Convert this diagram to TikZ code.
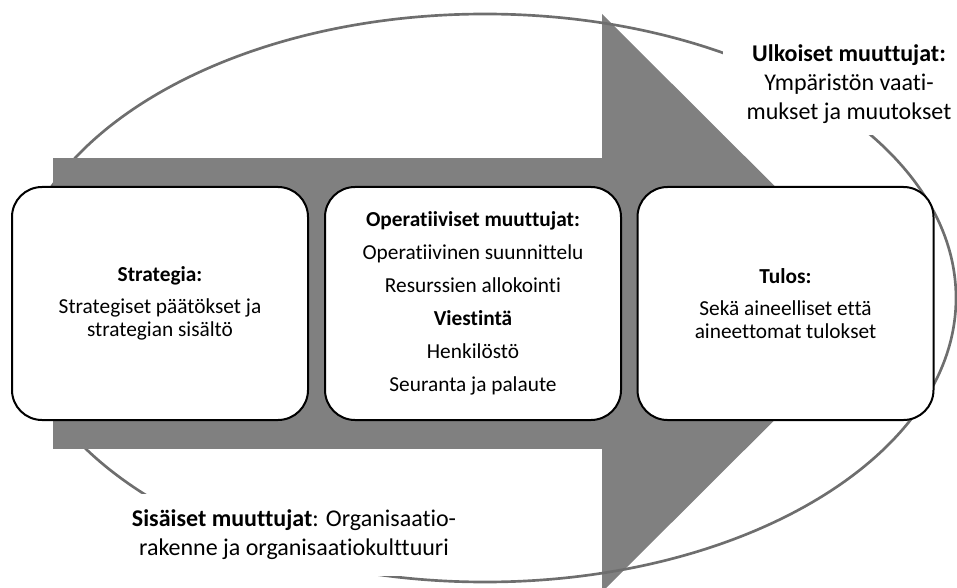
\documentclass[tikz,border=0pt]{standalone}
\usepackage{fontspec}
\setmainfont[Ligatures=NoCommon]{Carlito}
\definecolor{arrowgray}{HTML}{808080}
\definecolor{ringgray}{HTML}{6E6E6E}

\begin{document}
\begin{tikzpicture}[x=0.75pt, y=-0.75pt, line join=round,
  stage/.style={draw=black, line width=1.5pt, fill=white, rounded corners=22.5pt,
    minimum width=222pt, minimum height=174.75pt, align=center, inner sep=0pt,
    font=\fontsize{16}{17.25}\selectfont},
  factor/.style={fill=white, align=center, inner sep=0pt,
    font=\fontsize{18}{21.75}\selectfont}]

% Frame of the picture (pixel grid, y runs down)
\useasboundingbox (0,0) rectangle (957,588);

% Define the corners of the arrow
\coordinate (S1) at (53,158);   % shaft, top left
\coordinate (S2) at (612,449);  % shaft, bottom right
\coordinate (H1) at (602,14);   % head, top
\coordinate (T)  at (892,303);  % tip
\coordinate (H2) at (602,592);  % head, bottom

% Arrow head first, the ellipse runs over it
\fill[arrowgray] (H1) -- (T) -- (H2) -- cycle;

% Ellipse of the surroundings
\coordinate (E) at (485,298);
\draw[ringgray, line width=2pt] (E) ellipse [x radius=353.25pt, y radius=213pt];

% Shaft of the arrow hides the ellipse on the left
\fill[arrowgray] (S1) rectangle (S2);

% The three stages
\node[stage] (strategy) at (160,303.5)
  {\textbf{Strategia:}\\[6.75pt]Strategiset päätökset ja\\strategian sisältö};
\node[stage] (operations) at (473,303.5)
  {\textbf{Operatiiviset muuttujat:}\\[7.5pt]Operatiivinen suunnittelu\\[7.5pt]%
   Resurssien allokointi\\[7.5pt]\textbf{Viestintä}\\[7.5pt]Henkilöstö\\[7.5pt]%
   Seuranta ja palaute};
\node[stage] (result) at (785.5,303.5)
  {\textbf{Tulos:}\\[6.75pt]Sekä aineelliset että\\aineettomat tulokset};

% Outer and inner variables, they cut the ellipse
\node[factor, minimum width=189pt, minimum height=76.5pt] (outer) at (849,84)
  {\textbf{Ulkoiset muuttujat:}\\Ympäristön vaati-\\mukset ja muutokset};
\node[factor, minimum width=262.5pt, minimum height=61.5pt] (inner) at (294,535)
  {\textbf{Sisäiset muuttujat}: Organisaatio-\\rakenne ja organisaatiokulttuuri};

\end{tikzpicture}
\end{document}
